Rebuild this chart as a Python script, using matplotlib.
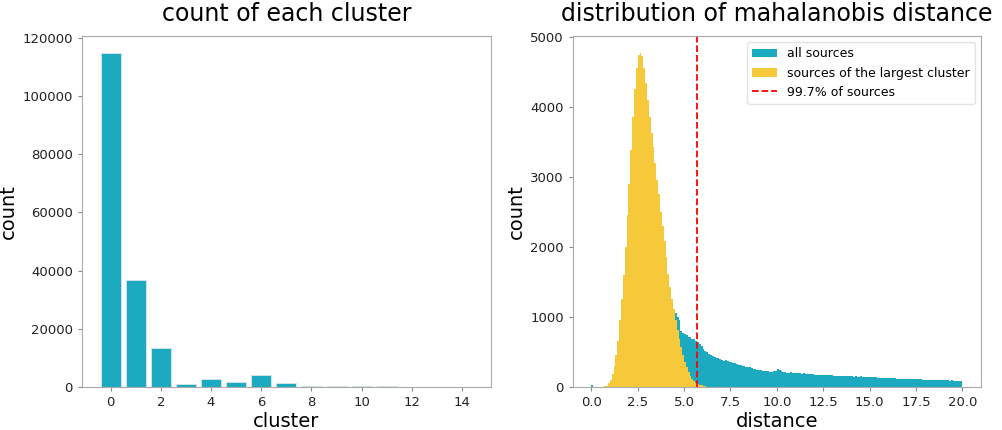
import matplotlib
matplotlib.use("Agg")
import matplotlib.pyplot as plt
import numpy as np

teal = "#1caac1"
yellow = "#f5c93a"

# left panel: number of sources in each cluster
clusters = np.arange(15)
cluster_counts = [114800, 36700, 13400, 1200, 2600, 1800, 4200, 1500,
                  400, 200, 400, 300, 60, 30, 20]

# right panel: histogram of mahalanobis distance, bins of 0.1 from 0 to 20
bin_width = 0.1
n_bins = 200

# sources of the largest cluster, bins starting at distance 0.7
largest_first_bin = 7
largest_counts = [15, 20, 50, 100, 180, 300, 450, 650, 950, 1250,
                  1600, 2000, 2450, 2900, 3380, 3850, 4250, 4560, 4740, 4770,
                  4720, 4560, 4340, 4100, 3850, 3620, 3420, 3200, 2950, 2750,
                  2500, 2300, 2080, 1850, 1620, 1430, 1260, 1110, 960, 820,
                  690, 570, 460, 360, 280, 210, 150, 115, 85, 60,
                  42, 30, 22, 16, 11, 7, 4, 2]

# all sources, from distance 4.4 up to 20 (below 4.4 they equal the largest cluster)
tail_first_bin = 44
all_tail_counts = [1120, 1060, 1000, 960, 800, 770, 750, 740, 720, 715,
                   690, 680, 660, 640, 610, 590, 540, 520, 500, 470,
                   450, 440, 425, 420, 410, 395, 385, 375, 380, 365,
                   355, 350, 345, 340, 335, 320, 310, 305, 300, 290,
                   285, 280, 270, 260, 255, 245, 240, 238, 232, 230,
                   225, 222, 218, 220, 225, 235, 250, 245, 230, 215,
                   208, 205, 205, 208, 200, 205, 200, 198, 195, 192,
                   195, 190, 188, 192, 185, 180, 178, 175, 172, 175,
                   170, 172, 168, 170, 165, 168, 162, 160, 158, 155,
                   150, 152, 155, 150, 155, 158, 152, 148, 150, 145,
                   148, 150, 145, 142, 140, 143, 138, 140, 136, 138,
                   134, 133, 130, 132, 128, 126, 125, 124, 122, 125,
                   120, 118, 116, 118, 115, 114, 116, 112, 110, 112,
                   109, 108, 110, 111, 106, 104, 105, 102, 101, 100,
                   103, 99, 98, 100, 97, 96, 95, 94, 93, 92,
                   94, 91, 90, 92, 88, 90]
zero_bin_count = 25
threshold = 5.67

edges = np.arange(n_bins + 1) * bin_width
largest_hist = np.zeros(n_bins)
largest_hist[largest_first_bin:largest_first_bin + len(largest_counts)] = largest_counts
all_hist = largest_hist.copy()
all_hist[tail_first_bin:] = all_tail_counts
all_hist[0] = zero_bin_count
centers = edges[:-1] + bin_width / 2

fig = plt.figure(figsize=(10.02, 4.3), dpi=100)
ax1 = fig.add_axes([0.0818, 0.1, 0.408, 0.816])
ax2 = fig.add_axes([0.5716, 0.1, 0.4074, 0.816])

ax1.bar(clusters, cluster_counts, width=0.8, color=teal, edgecolor="#d3e4e7", linewidth=0.7)
ax1.set_xticks(np.arange(0, 15, 2))
ax1.set_title("count of each cluster", fontsize=17, pad=11)
ax1.set_xlabel("cluster", fontsize=14, labelpad=2)
ax1.set_ylabel("count", fontsize=14, labelpad=3)

ax2.hist(centers, bins=edges, weights=all_hist, color=teal, label="all sources")
ax2.hist(centers, bins=edges, weights=largest_hist, color=yellow,
         label="sources of the largest cluster")
ax2.axvline(threshold, color="red", linestyle="--", linewidth=1.3, label="99.7% of sources")
ax2.set_xticks(np.arange(0, 20.1, 2.5))
ax2.set_title("distribution of mahalanobis distance", fontsize=17, pad=11)
ax2.set_xlabel("distance", fontsize=14, labelpad=2)
ax2.set_ylabel("count", fontsize=14, labelpad=3)
ax2.legend(loc="upper right", fontsize=9, edgecolor="#dddddd")

for ax in (ax1, ax2):
    for s in ax.spines.values():
        s.set_color("#aaaaaa")
    ax.tick_params(labelsize=9.5, length=3, color="#888888", labelcolor="#222222")

fig.savefig("out.png", dpi=100)
